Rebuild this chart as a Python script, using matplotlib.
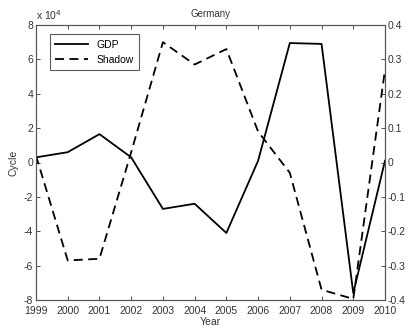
import matplotlib
matplotlib.use("Agg")
import matplotlib.pyplot as plt

years = [1999, 2000, 2001, 2002, 2003, 2004, 2005, 2006, 2007, 2008, 2009, 2010]
gdp = [0.3e4, 0.6e4, 1.65e4, 0.3e4, -2.7e4, -2.4e4, -4.1e4, 0.1e4, 6.95e4, 6.9e4, -7.6e4, 0.1e4]
shadow = [0.02, -0.285, -0.28, 0.03, 0.35, 0.285, 0.33, 0.09, -0.03, -0.37, -0.397, 0.27]

plt.rcParams['font.family'] = ['Liberation Sans', 'DejaVu Sans']
plt.rcParams['font.size'] = 7
axc = '#555555'

fig = plt.figure(figsize=(4.08, 3.28), dpi=100)
ax = fig.add_axes([36 / 408, 28 / 328, 349 / 408, 275 / 328])
ax2 = ax.twinx()

l1, = ax.plot(years, gdp, color='black', linewidth=1.3, label='GDP')
l2, = ax2.plot(years, shadow, color='black', linewidth=1.3, linestyle=(0, (5, 3)), label='Shadow')

ax.set_xlim(1999, 2010)
ax.set_ylim(-8e4, 8e4)
ax2.set_ylim(-0.4, 0.4)
ax.set_xticks(years)
ax.set_yticks([-8e4, -6e4, -4e4, -2e4, 0, 2e4, 4e4, 6e4, 8e4])
ax.set_yticklabels(['-8', '-6', '-4', '-2', '0', '2', '4', '6', '8'])
ax2.set_yticks([-0.4, -0.3, -0.2, -0.1, 0, 0.1, 0.2, 0.3, 0.4])
ax2.set_yticklabels(['-0.4', '-0.3', '-0.2', '-0.1', '0', '0.1', '0.2', '0.3', '0.4'])

for a in (ax, ax2):
    a.tick_params(direction='in', length=3, colors='#333333', labelsize=7.5, pad=2, width=0.6)
    for s in a.spines.values():
        s.set_color(axc)
        s.set_linewidth(0.8)
ax.tick_params(top=True)
ax.tick_params(axis='x', pad=4)

ax.text(0.0, 1.01, r'x 10$^4$', transform=ax.transAxes, ha='left', va='bottom', fontsize=7.5, color='#333333')
ax.set_title('Germany', fontsize=7, color='#333333', pad=6)
ax.set_xlabel('Year', fontsize=7.5, color='#333333', labelpad=1)
ax.set_ylabel('Cycle', fontsize=7.5, color='#333333', labelpad=4)

leg = ax.legend([l1, l2], ['GDP', 'Shadow'], loc='upper left', fontsize=7.5, frameon=True,
                fancybox=False, edgecolor='#333333', handlelength=3.2, borderpad=0.5,
                bbox_to_anchor=(0.025, 0.985))
leg.get_frame().set_linewidth(0.8)

fig.savefig('out.png', dpi=100)
